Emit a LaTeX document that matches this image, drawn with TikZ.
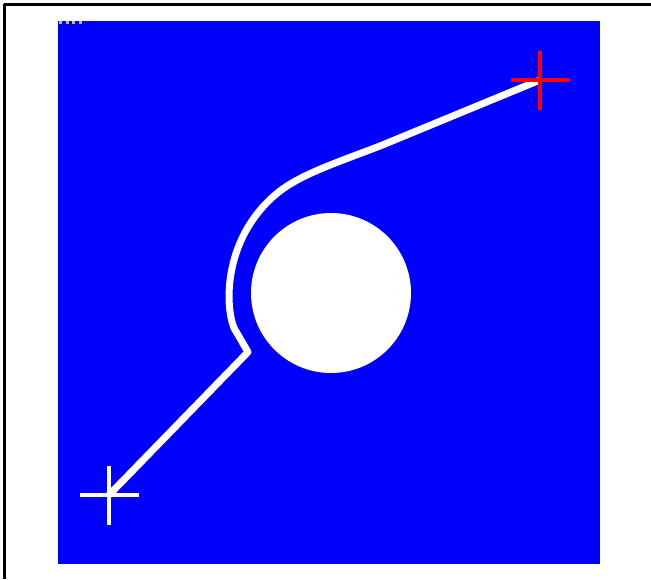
\documentclass[tikz,border=0pt]{standalone}
\usepackage{tikz}
\usetikzlibrary{calc}
\definecolor{mapBlue}{HTML}{0000FF}
\definecolor{mapRed}{HTML}{FF0000}
\definecolor{mapDot}{HTML}{C8BE7A}
\newcommand{\pathLineW}{7}
\newcommand{\crossLineW}{4}
\tikzset{
  map frame/.style={black, line width=2.5},
  cross arm/.style={line width=\crossLineW},
}
\begin{document}
\begin{tikzpicture}[x=1pt, y=-1pt, line cap=butt, line join=round]
  \useasboundingbox (0,0) rectangle (651,579);

  % ===== Outer frame (top and left edges) =====
  \draw[map frame] (651,4.5) -- (4.5,4.5) -- (4.5,579);

  % ===== Workspace =====
  \fill[mapBlue] (58,21) rectangle (600,564);
  \draw[mapDot, line width=3, dash pattern=on 3 off 3.5] (59,22.5) -- (82,22.5);

  % Obstacle
  \fill[white] (331,293) circle (80);

  % ===== Planned path =====
  \coordinate (start) at (109,495);
  \coordinate (goal) at (540,80);
  \coordinate (kink) at (248,352);
  \draw[white, line width=\pathLineW]
    (start) -- (kink) -- (234,328)
    .. controls (225,306) and (223,240) .. (275,195)
    .. controls (297,176) and (330,165) .. (380,146)
    -- (goal);

  % ===== Start and goal markers =====
  \draw[white, cross arm] ($(start)+(-29,0)$) -- ($(start)+(30,0)$);
  \draw[white, cross arm] ($(start)+(0,-29)$) -- ($(start)+(0,30)$);
  \draw[mapRed, cross arm] ($(goal)+(-29,0)$) -- ($(goal)+(30,0)$);
  \draw[mapRed, cross arm] ($(goal)+(0,-29)$) -- ($(goal)+(0,30)$);
\end{tikzpicture}
\end{document}
